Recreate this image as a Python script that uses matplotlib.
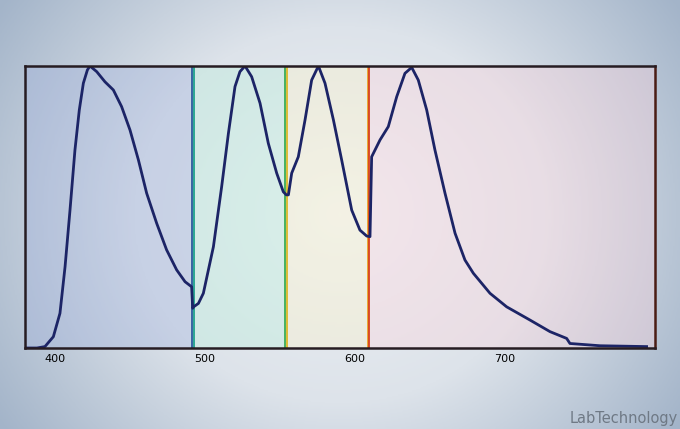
import matplotlib.pyplot as plt
import numpy as np
from matplotlib.colors import LinearSegmentedColormap

# Spectrum (wavelength in nm, relative intensity)
wavelength = [380, 388, 393.3, 398.9, 403.3, 406.7, 410, 413.3, 416.2, 418.9, 421.6,
              423.3, 427.8, 433.3, 438.9, 444.4, 450, 455.6, 461.1, 467.8, 474.4,
              481.1, 486.7, 491.1, 491.8, 492.4, 495.6, 498.9, 505.6, 511.1, 515.6,
              520, 523.3, 526.7, 531.1, 536.7, 542.2, 547.8, 552.2, 554.2, 555.6,
              557.8, 562.2, 566.7, 571.1, 575.6, 580, 585.6, 591.1, 597.8, 603.3,
              607.8, 610, 611.1, 616.7, 622.2, 627.8, 633.3, 637.8, 642.2, 647.8,
              653.3, 660, 666.7, 673.3, 678.9, 690, 701.1, 716.7, 730, 741.1, 743.3,
              763.3, 794.4]
intensity = [0.0, 0.0, 0.005, 0.04, 0.123, 0.288, 0.489, 0.702, 0.844, 0.939, 0.986,
             1.0, 0.98, 0.944, 0.915, 0.856, 0.773, 0.667, 0.549, 0.442, 0.348,
             0.277, 0.235, 0.217, 0.141, 0.146, 0.158, 0.194, 0.359, 0.572, 0.761,
             0.927, 0.98, 1.0, 0.962, 0.868, 0.726, 0.62, 0.554, 0.543, 0.543,
             0.62, 0.678, 0.809, 0.95, 1.0, 0.939, 0.809, 0.667, 0.489, 0.418,
             0.397, 0.395, 0.678, 0.738, 0.785, 0.891, 0.974, 0.995, 0.95, 0.844,
             0.702, 0.549, 0.407, 0.312, 0.265, 0.194, 0.146, 0.099, 0.058, 0.034, 0.016,
             0.008, 0.005]

# colour bands
band_edges = [380, 492, 554, 609, 800]
band_colors = ['#9fb0dc', '#b8f0da', '#fff5c8', '#ffd4dc']
edge_pairs = [('#2c5c9c', '#1ea08c'), ('#3cac54', '#dcb828'), ('#e6a424', '#d8401e')]

xticks = [400, 500, 600, 700]

fig = plt.figure(figsize=(6.8, 4.29), dpi=100)

# vignette background
bg = fig.add_axes([0, 0, 1, 1])
yy, xx = np.mgrid[0:1:300j, 0:1:480j]
r = np.sqrt(((xx - 0.5) / 0.55) ** 2 + ((yy - 0.5) / 0.8) ** 2)
cmap = LinearSegmentedColormap.from_list('bg', ['#eef1f4', '#dde3ea', '#a3b4c9'])
bg.imshow(np.clip(r, 0, 1.1), cmap=cmap, aspect='auto', extent=[0, 1, 0, 1])
bg.axis('off')

ax = fig.add_axes([25 / 680, 1 - 348 / 429, 630 / 680, 282 / 429])
ax.patch.set_alpha(0)
for i in range(len(band_colors)):
    ax.axvspan(band_edges[i], band_edges[i + 1], color=band_colors[i], alpha=0.35, lw=0)
for (c1, c2), e in zip(edge_pairs, band_edges[1:-1]):
    ax.axvline(e - 0.5, color=c1, lw=1.3)
    ax.axvline(e + 0.6, color=c2, lw=1.3)

ax.plot(wavelength, intensity, color='#1c2466', lw=2.0, solid_joinstyle='round')

ax.set_xlim(380, 800)
ax.set_ylim(0, 1.0)
ax.set_xticks(xticks)
ax.set_xticklabels([str(t) for t in xticks], fontsize=8)
ax.tick_params(axis='x', length=0, pad=4)
ax.set_yticks([])
for s in ax.spines.values():
    s.set_color('#261c22')
    s.set_linewidth(1.8)
ax.spines['right'].set_color('#4a1c14')

fig.text(0.997, 0.008, 'LabTechnology', ha='right', va='bottom', fontsize=10.5,
         color='#6f7985', family='DejaVu Sans')

fig.savefig('out.png', dpi=100)
